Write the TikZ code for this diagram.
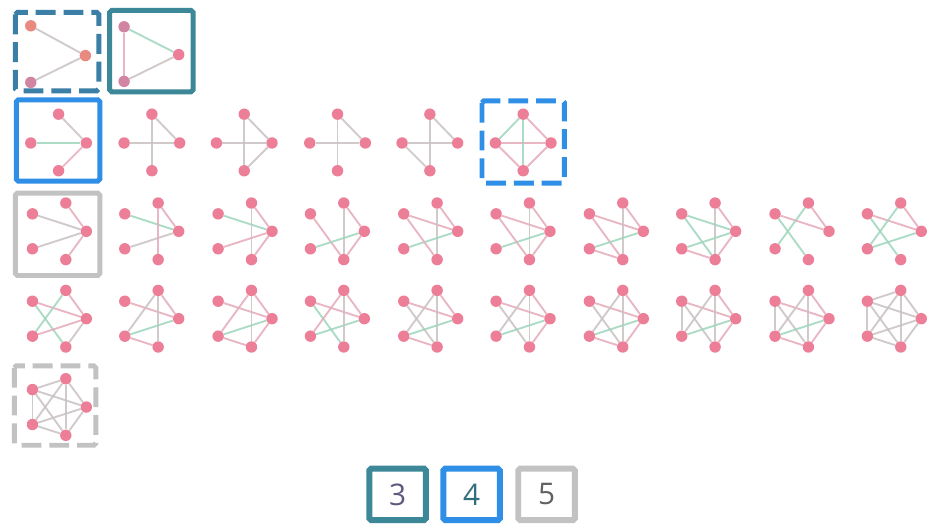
\documentclass[tikz,border=0pt]{standalone}
\usepackage{fontspec}
\setmainfont{Open Sans}
\pgfdeclarelayer{bottom}
\pgfdeclarelayer{bg}
\pgfsetlayers{bottom,bg,main}
\definecolor{npink}{HTML}{EC7F97}
\definecolor{nsalmon}{HTML}{E98A80}
\definecolor{nmauve}{HTML}{D285A3}
\definecolor{epink}{HTML}{E6AABA}
\definecolor{egreen}{HTML}{9FD6BD}
\definecolor{egray}{HTML}{C9C1C3}
\definecolor{cthreea}{HTML}{3B7FA6}
\definecolor{cthree}{HTML}{3C8798}
\definecolor{cfour}{HTML}{2F8FE6}
\definecolor{cfive}{HTML}{C2C2C2}
\definecolor{tthree}{RGB}{92,90,125}
\definecolor{tfour}{RGB}{50,110,125}
\definecolor{tfive}{RGB}{97,97,97}
\tikzset{
  vtx/.style={circle, fill=#1, inner sep=0pt, minimum size=11.5pt, draw=none},
  vtx/.default=npink,
  edg/.style={line width=1.9pt, draw=#1, opacity=0.85},
  edg/.default=epink,
  frame/.style={line width=5pt, draw=#1, rounded corners=2pt},
  dframe/.style={frame=#1, dash pattern=on 20pt off 8pt},
  legbox/.style={line width=6pt, draw=#1, rounded corners=2pt, minimum width=57pt, minimum height=52pt},
  legtxt/.style={font=\fontsize{30}{30}\selectfont, text=#1}
}
% four-node diamond: name, cx, cy
\newcommand\quadnodes[3]{%
  \node[vtx] (#1-t) at (#2, #3-29) {};
  \node[vtx] (#1-l) at (#2-28, #3) {};
  \node[vtx] (#1-r) at (#2+28, #3) {};
  \node[vtx] (#1-b) at (#2, #3+28) {};}
% pentagon: name, cx, cy
\newcommand\pentnodes[3]{%
  \node[vtx] (#1-0) at (#2+30, #3) {};
  \node[vtx] (#1-1) at (#2+9.3, #3-28.5) {};
  \node[vtx] (#1-2) at (#2-24.3, #3-17.6) {};
  \node[vtx] (#1-3) at (#2-24.3, #3+17.6) {};
  \node[vtx] (#1-4) at (#2+9.3, #3+28.5) {};}
\newcommand\edges[2]{%
  \begin{pgfonlayer}{bg}
  \foreach \a/\b/\c in {#2} {\draw[edg=\c] (#1-\a) -- (#1-\b);}
  \end{pgfonlayer}}
\begin{document}
\begin{tikzpicture}[x=1pt,y=-1pt]
\begin{pgfonlayer}{bottom}
\useasboundingbox[fill=white] (0,0) rectangle (927,528);
\end{pgfonlayer}
% ---- row 1: three nodes
\draw[dframe=cthreea] (15.5,12.5) rectangle (99.5,91.5);
\draw[frame=cthree] (110.5,10.5) rectangle (194.5,92.5);
\node[vtx=nsalmon] (a-0) at (31,26) {};
\node[vtx=nsalmon] (a-1) at (86,56) {};
\node[vtx=nmauve] (a-2) at (31,83) {};
\edges{a}{0/1/egray, 1/2/egray}
\node[vtx=nmauve] (b-0) at (125,27) {};
\node[vtx] (b-1) at (180,55) {};
\node[vtx=nmauve] (b-2) at (125,82) {};
\edges{b}{0/1/egreen, 1/2/egray, 0/2/epink}
% ---- row 2: four nodes
\draw[frame=cfour] (16.5,100.5) rectangle (100.5,182.5);
\draw[dframe=cfour] (485.5,101.5) rectangle (568.5,184.5);
\quadnodes{q1}{59}{144}
\edges{q1}{l/r/egreen, t/r/egray, b/r/epink}
\quadnodes{q2}{153}{144}
\edges{q2}{l/r/egray, t/b/egray, t/r/egray}
\quadnodes{q3}{246}{144}
\edges{q3}{l/r/egray, t/b/egray, t/r/egray, r/b/egray}
\quadnodes{q4}{340}{144}
\edges{q4}{l/r/egray, t/b/egray, t/r/egray}
\quadnodes{q5}{433}{144}
\edges{q5}{l/r/egray, t/b/egray, t/r/egray, l/b/egray}
\quadnodes{q6}{527}{144}
\edges{q6}{l/r/epink, t/b/egreen, t/r/epink, l/b/epink, r/b/epink, t/l/egreen}
% ---- row 3: five nodes
\draw[frame=cfive] (15.5,194.5) rectangle (100.5,277.5);
\pentnodes{p1}{57}{233}
\edges{p1}{0/1/epink, 0/2/egray, 0/3/egray, 0/4/epink}
\pentnodes{p2}{150}{233}
\edges{p2}{0/1/epink, 0/2/egreen, 0/3/egray, 1/4/epink}
\pentnodes{p3}{244}{233}
\edges{p3}{0/1/epink, 0/2/egreen, 0/3/epink, 0/4/epink, 1/4/egray}
\pentnodes{p4}{337}{233}
\edges{p4}{2/4/epink, 0/1/epink, 1/4/egray, 0/3/egreen, 0/4/epink}
\pentnodes{p5}{431}{233}
\edges{p5}{0/2/epink, 0/1/epink, 1/4/egray, 0/3/egreen, 2/4/epink}
\pentnodes{p6}{524}{233}
\edges{p6}{0/2/epink, 0/1/epink, 1/4/egray, 0/3/egreen, 2/4/epink, 0/4/epink}
\pentnodes{p7}{618}{233}
\edges{p7}{0/2/epink, 0/1/epink, 1/4/egray, 2/4/epink, 0/3/egreen, 3/4/epink}
\pentnodes{p8}{711}{233}
\edges{p8}{0/2/egreen, 0/1/epink, 1/4/egray, 0/3/egreen, 3/4/epink, 0/4/epink, 2/4/egreen}
\pentnodes{p9}{805}{233}
\edges{p9}{0/2/epink, 0/1/epink, 1/3/egreen, 2/4/egreen}
\pentnodes{p10}{898}{233}
\edges{p10}{0/2/epink, 0/1/epink, 1/3/egreen, 2/4/egreen, 0/3/egreen}
% ---- row 4
\pentnodes{r1}{57}{321}
\edges{r1}{0/2/epink, 0/1/epink, 2/4/egreen, 3/1/egreen, 3/0/epink, 4/0/egray}
\pentnodes{r2}{150}{321}
\edges{r2}{0/2/epink, 0/1/epink, 1/4/egray, 3/0/egreen, 3/1/egray, 3/4/epink}
\pentnodes{r3}{244}{321}
\edges{r3}{0/2/epink, 0/1/epink, 1/4/egray, 3/0/egreen, 3/1/epink, 3/4/epink, 0/4/epink}
\pentnodes{r4}{337}{321}
\edges{r4}{0/2/epink, 0/1/epink, 2/4/egreen, 3/0/egreen, 3/1/epink, 1/4/egray}
\pentnodes{r5}{431}{321}
\edges{r5}{0/2/epink, 1/4/egray, 2/4/egray, 3/0/egreen, 3/1/egray, 3/4/epink, 0/1/epink}
\pentnodes{r6}{524}{321}
\edges{r6}{0/2/epink, 1/4/egray, 2/4/egray, 3/0/egreen, 3/1/egray, 0/4/epink, 0/1/epink}
\pentnodes{r7}{618}{321}
\edges{r7}{0/2/epink, 1/4/egray, 2/4/egray, 3/0/egreen, 3/1/egray, 3/4/epink, 0/1/epink, 0/4/epink}
\pentnodes{r8}{711}{321}
\edges{r8}{0/2/epink, 1/4/egray, 2/4/egray, 3/0/egreen, 3/1/egray, 2/3/egray, 0/1/epink, 0/4/epink}
\pentnodes{r9}{805}{321}
\edges{r9}{0/2/epink, 1/4/egray, 2/4/egray, 3/0/egreen, 3/1/egray, 2/3/egray, 0/1/epink, 0/4/epink, 3/4/epink}
\pentnodes{r10}{898}{321}
\edges{r10}{0/2/egray, 1/4/egray, 2/4/egray, 3/0/egray, 3/1/egray, 2/3/egray, 0/1/egray, 0/4/egray, 3/4/egray, 1/2/egray}
% ---- row 5: complete graph
\draw[dframe=cfive] (14.5,368.5) rectangle (96.5,448.5);
\pentnodes{k}{57}{410}
\edges{k}{0/1/egray, 0/2/egray, 0/3/egray, 0/4/egray, 1/2/egray, 1/3/egray, 1/4/egray, 2/3/egray, 2/4/egray, 3/4/egray}
% ---- legend
\node[legbox=cthree] (l3) at (400.5,498) {};
\node[legbox=cfour] (l4) at (475,498) {};
\node[legbox=cfive] (l5) at (550.5,498) {};
\node[legtxt=tthree] (t3) at (l3) {3};
\node[legtxt=tfour] (t4) at (l4) {4};
\node[legtxt=tfive] (t5) at (l5) {5};
\end{tikzpicture}
\end{document}
